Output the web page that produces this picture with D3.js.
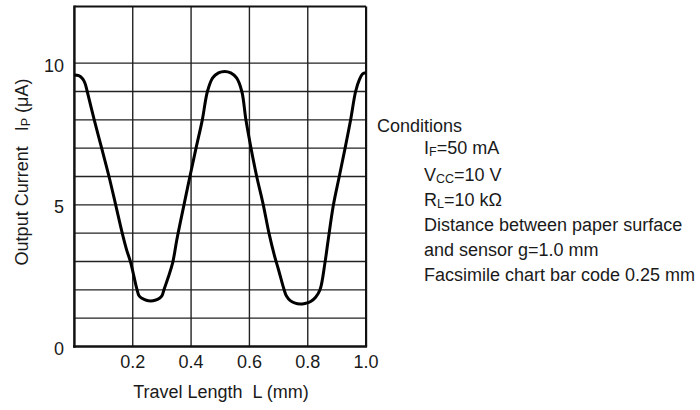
<!DOCTYPE html>
<html>
<head>
<meta charset="utf-8">
<script src="https://cdn.jsdelivr.net/npm/d3@7"></script>
<style>
  body { margin: 0; background: #fff; }
  svg text { font-family: "Liberation Sans", Arial, sans-serif; fill: #1a1a1a; }
</style>
</head>
<body>
<div id="vis"></div>
<script>
// travel length (mm) vs output current (uA)
var travel  = [0, 0.015, 0.028, 0.036, 0.044, 0.068, 0.0935, 0.1186, 0.1415, 0.164, 0.179, 0.193, 0.2136, 0.2216, 0.2316, 0.2466, 0.2616, 0.2766, 0.2916, 0.3006, 0.307, 0.322, 0.337, 0.351, 0.3757, 0.396, 0.417, 0.4385, 0.456, 0.474, 0.494, 0.515, 0.536, 0.556, 0.574, 0.588, 0.6055, 0.625, 0.6475, 0.667, 0.686, 0.700, 0.719, 0.727, 0.740, 0.757, 0.7735, 0.790, 0.810, 0.827, 0.842, 0.859, 0.870, 0.888, 0.908, 0.928, 0.947, 0.964, 0.977, 0.988, 1.0];
var current = [9.58, 9.56, 9.45, 9.3, 9.0, 8.0, 7.0, 6.0, 5.0, 4.0, 3.41, 2.96, 2.05, 1.79, 1.70, 1.63, 1.61, 1.63, 1.70, 1.80, 2.0, 2.45, 2.96, 3.76, 5.0, 6.0, 7.0, 8.0, 9.0, 9.48, 9.66, 9.71, 9.66, 9.48, 9.0, 8.0, 7.0, 6.0, 5.0, 4.0, 3.2, 2.7, 2.0, 1.78, 1.62, 1.53, 1.50, 1.52, 1.59, 1.74, 2.0, 2.96, 3.76, 5.0, 6.0, 7.0, 8.0, 9.0, 9.42, 9.62, 9.66];

var xTicks = [0.2, 0.4, 0.6, 0.8, 1.0];
var yTicks = [0, 5, 10];
var yGrid = [1, 2, 3, 4, 5, 6, 7, 8, 9, 10];
var xGrid = [0.2, 0.4, 0.6, 0.8];

var conditionsTitle = "Conditions";
// each line: [main, subscript, rest]
var conditionLines = [
  ["I", "F", "=50 mA"],
  ["V", "CC", "=10 V"],
  ["R", "L", "=10 k\u03A9"],
  ["Distance between paper surface", "", ""],
  ["and sensor g=1.0 mm", "", ""],
  ["Facsimile chart bar code 0.25 mm", "", ""]
];

var chart = {};
chart.fullWidth = 700;
chart.fullHeight = 410;
chart.margin = {top: 6.5, left: 74.4};
chart.width = 291.7;
chart.height = 340;

chart.x = d3.scaleLinear().domain([0, 1.0]).range([0, chart.width]);
chart.y = d3.scaleLinear().domain([0, 12]).range([chart.height, 0]);

var svg = d3.select("#vis").append("svg")
  .attr("width", chart.fullWidth)
  .attr("height", chart.fullHeight);

var vis = svg.append("g")
  .attr("transform", "translate(" + chart.margin.left + "," + chart.margin.top + ")");

// grid
vis.selectAll("line.hgrid")
  .data(yGrid)
  .enter().append("line")
  .attr("class", "hgrid")
  .attr("x1", 0).attr("x2", chart.width)
  .attr("y1", chart.y).attr("y2", chart.y)
  .attr("stroke", "#222").attr("stroke-width", 1.4);

vis.selectAll("line.vgrid")
  .data(xGrid)
  .enter().append("line")
  .attr("class", "vgrid")
  .attr("x1", chart.x).attr("x2", chart.x)
  .attr("y1", 0).attr("y2", chart.height)
  .attr("stroke", "#222").attr("stroke-width", 1.4);

// frame
vis.append("line").attr("x1", 0).attr("x2", chart.width).attr("y1", 0).attr("y2", 0)
  .attr("stroke", "#111").attr("stroke-width", 2);
vis.append("line").attr("x1", chart.width).attr("x2", chart.width).attr("y1", 0).attr("y2", chart.height)
  .attr("stroke", "#111").attr("stroke-width", 2.2);
vis.append("line").attr("x1", 0).attr("x2", 0).attr("y1", -1).attr("y2", chart.height + 1.2)
  .attr("stroke", "#111").attr("stroke-width", 2.5);
vis.append("line").attr("x1", -1.2).attr("x2", chart.width + 1).attr("y1", chart.height).attr("y2", chart.height)
  .attr("stroke", "#111").attr("stroke-width", 2.5);

// curve
var pts = travel.map(function(t, i) { return {x: t, y: current[i]}; });
chart.line = d3.line()
  .x(function(d) { return chart.x(d.x); })
  .y(function(d) { return chart.y(d.y); })
  .curve(d3.curveCatmullRom.alpha(0.5));

vis.append("path")
  .datum(pts)
  .attr("d", chart.line)
  .attr("fill", "none")
  .attr("stroke", "#000")
  .attr("stroke-width", 3)
  .attr("stroke-linejoin", "round");

// tick labels
vis.selectAll("text.xtick")
  .data(xTicks)
  .enter().append("text")
  .attr("class", "xtick")
  .attr("x", chart.x)
  .attr("y", chart.height + 21.8)
  .attr("text-anchor", "middle")
  .style("font-size", "18px")
  .text(function(d) { return d3.format(".1f")(d); });

vis.selectAll("text.ytick")
  .data(yTicks)
  .enter().append("text")
  .attr("class", "ytick")
  .attr("x", -10.4)
  .attr("y", function(d) { return chart.y(d) + 8.5; })
  .attr("text-anchor", "end")
  .style("font-size", "18px")
  .text(function(d) { return d; });

// axis titles
svg.append("text")
  .attr("x", 221)
  .attr("y", 398)
  .attr("text-anchor", "middle")
  .attr("xml:space", "preserve")
  .style("font-size", "18px")
  .text("Travel Length  L (mm)");

var ylab = svg.append("text")
  .attr("transform", "translate(28,172) rotate(-90)")
  .attr("text-anchor", "middle")
  .attr("xml:space", "preserve")
  .style("font-size", "18px");
ylab.append("tspan").text("Output Current   I");
ylab.append("tspan").attr("dy", 2).style("font-size", "12.5px").text("P");
ylab.append("tspan").attr("dy", -2).text(" (\u03BCA)");

// conditions block
svg.append("text")
  .attr("x", 377)
  .attr("y", 131.7)
  .style("font-size", "18px")
  .text(conditionsTitle);

var lineH = 25;
conditionLines.forEach(function(c, i) {
  var t = svg.append("text")
    .attr("x", 424)
    .attr("y", 155.5 + i * lineH + (i === 0 ? -1.5 : 0))
    .style("font-size", "18px");
  t.append("tspan").text(c[0]);
  if (c[1]) {
    t.append("tspan").attr("dy", 2).style("font-size", "12.5px").text(c[1]);
    t.append("tspan").attr("dy", -2).text(c[2]);
  }
});
</script>
</body>
</html>
